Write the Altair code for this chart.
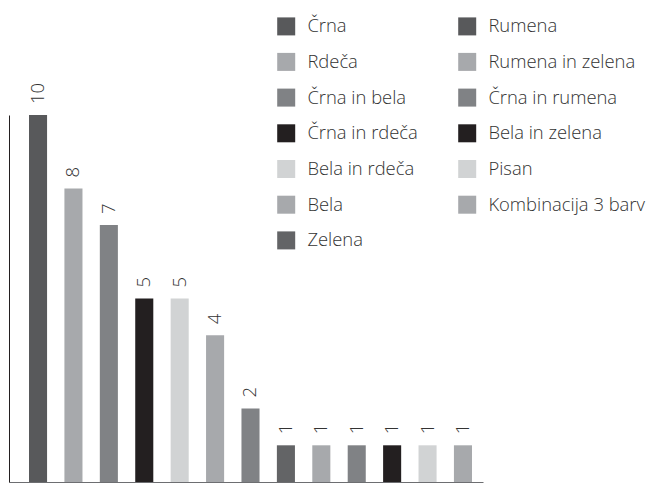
import altair as alt
import pandas as pd

categories = ["Črna", "Rdeča", "Črna in bela", "Črna in rdeča", "Bela in rdeča", "Bela", "Zelena",
              "Rumena", "Rumena in zelena", "Črna in rumena", "Bela in zelena", "Pisan", "Kombinacija 3 barv"]
values = [10, 8, 7, 5, 5, 4, 2, 1, 1, 1, 1, 1, 1]
bar_colors = ["#58595b", "#a7a9ac", "#808285", "#231f20", "#d1d3d4", "#a7a9ac", "#808285",
              "#636466", "#a7a9ac", "#808285", "#231f20", "#d1d3d4", "#a7a9ac"]
legend_colors = ["#58595b", "#a7a9ac", "#808285", "#231f20", "#d1d3d4", "#a7a9ac", "#636466",
                 "#58595b", "#a7a9ac", "#808285", "#231f20", "#d1d3d4", "#a7a9ac"]

FONT = "Open Sans"
TEXT_COLOR = "#333333"

df = pd.DataFrame({"kategorija": categories, "vrednost": values, "barva": bar_colors})

x_enc = alt.X("kategorija:N", sort=categories,
              scale=alt.Scale(paddingInner=0.49, paddingOuter=0.438, align=0.645),
              axis=alt.Axis(labels=False, ticks=False, title=None, domainColor="#6d6e71", domainWidth=1))
y_enc = alt.Y("vrednost:Q", scale=alt.Scale(domain=[0, 10], nice=False),
              axis=alt.Axis(labels=False, ticks=False, title=None, grid=False, domainColor="#231f20", domainWidth=1))

bars = alt.Chart(df).mark_bar().encode(
    x=x_enc,
    y=y_enc,
    color=alt.Color("barva:N", scale=None, legend=None),
)

labels = alt.Chart(df).mark_text(angle=270, align="left", baseline="middle", dx=11,
                                 font=FONT, fontSize=18.5, color=TEXT_COLOR, fontWeight=300).encode(
    x=alt.X("kategorija:N", sort=categories),
    y=alt.Y("vrednost:Q"),
    text=alt.Text("vrednost:Q"),
)

legend_layer = alt.Chart(df).mark_square(opacity=1).encode(
    color=alt.Color("kategorija:N",
                    scale=alt.Scale(domain=categories, range=legend_colors),
                    legend=alt.Legend(orient="none", legendX=268, legendY=-98, columns=2,
                                      title=None, symbolType="square", symbolSize=324,
                                      symbolStrokeWidth=0, symbolOpacity=1,
                                      labelFont=FONT, labelFontSize=18.4, labelFontWeight=300,
                                      labelColor=TEXT_COLOR, labelOffset=12, labelLimit=300,
                                      rowPadding=16.7, columnPadding=40, padding=0)),
).transform_filter("false")

chart = alt.layer(bars, labels, legend_layer).resolve_scale(color="independent").properties(
    width=474, height=367,
    autosize=alt.AutoSizeParams(type="none"),
    padding={"left": 1, "top": 107, "right": 165, "bottom": 1},
).configure_view(stroke=None)

chart.save("out.html", embed_options={"renderer": "svg", "actions": False})
